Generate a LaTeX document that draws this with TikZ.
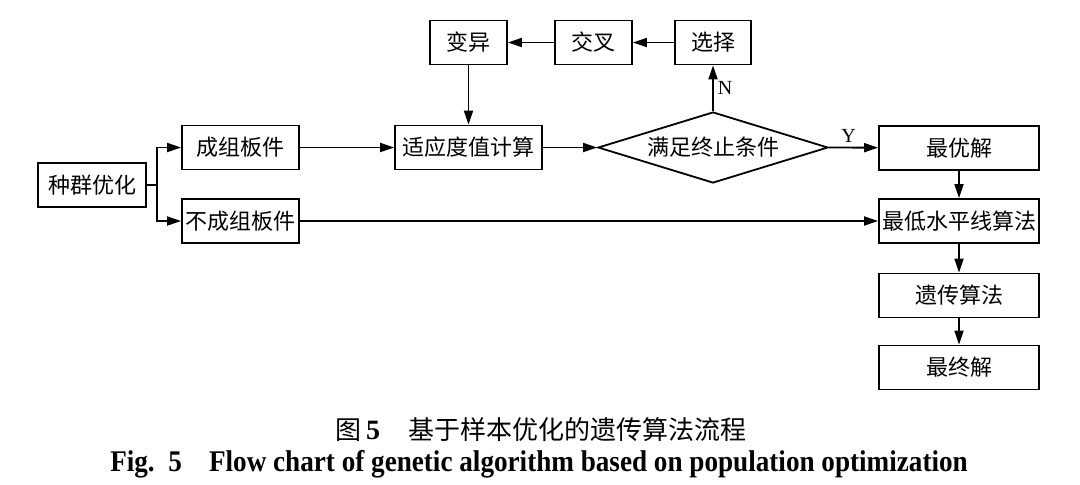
\documentclass[tikz,border=0pt]{standalone}
\usepackage{fontspec}
\setmainfont{Liberation Serif}
\newfontfamily\cjk{Noto Sans CJK SC}
\usetikzlibrary{arrows.meta}
\usetikzlibrary{shapes.geometric}
\tikzset{
    blk/.style={
        draw, line width=0.9pt, inner sep=0pt,
        minimum width=#1, minimum height=22pt,
        font=\cjk\fontsize{11}{13}\selectfont
    },
    blk/.default=80pt,
    cond/.style={
        draw, diamond, line width=0.9pt, inner sep=0pt, aspect=3.2,
        minimum width=115pt, minimum height=35.5pt,
        font=\cjk\fontsize{11}{13}\selectfont
    },
    arr/.style={line width=0.9pt, -{Triangle[length=7pt,width=4.5pt]}},
    lnk/.style={line width=0.9pt},
    yn/.style={font=\fontsize{10}{12}\selectfont, inner sep=2pt}
}

\begin{document}
\begin{tikzpicture}[x=0.5pt, y=-0.5pt]
		\useasboundingbox (0,0) rectangle (1080,484);

		% left part
		\node[blk=54pt] (pop) at (92,185) {种群优化};
		\node[blk=58.5pt] (grp) at (240.5,147.5) {成组板件};
		\node[blk=58.5pt] (ngrp) at (240.5,221) {不成组板件};
		\coordinate (fork) at (157,185);

		% loop
		\node[blk=73.5pt] (fit) at (468.5,147.5) {适应度值计算};
		\node[cond] (stop) at (713,147.5) {满足终止条件};
		\node[blk=38pt] (sel) at (713,42.5) {选择};
		\node[blk=38.5pt] (cross) at (593.5,42.5) {交叉};
		\node[blk=38.5pt] (mut) at (468.5,42.5) {变异};

		% right column
		\node[blk=80pt] (best) at (959,148) {最优解};
		\node[blk=80pt] (low) at (959,221) {最低水平线算法};
		\node[blk=80pt] (ga) at (959,295.5) {遗传算法};
		\node[blk=80pt] (final) at (959,367.5) {最终解};

		\draw[lnk] (pop.east) -- (fork);
		\draw[arr] (fork) |- (grp.west);
		\draw[arr] (fork) |- (ngrp.west);
		\draw[arr] (grp) -- (fit);
		\draw[arr] (fit) -- (stop);
		\draw[arr] (stop) -- node[yn, right] {N} (sel);
		\draw[arr] (sel) -- (cross);
		\draw[arr] (cross) -- (mut);
		\draw[arr] (mut) -- (fit);
		\draw[arr] (stop.east) -- node[yn, above, pos=0.4] {Y} (best);
		\draw[arr] (ngrp) -- (low);
		\draw[arr] (best) -- (low);
		\draw[arr] (low) -- (ga);
		\draw[arr] (ga) -- (final);

		% caption
		\node (capzh) at (541,430) {\fontsize{13}{15}\selectfont{\cjk 图}\,\textbf{\fontsize{14}{15}\selectfont 5}\hspace{14pt}{\cjk 基于样本优化的遗传算法流程}};
		\node (capen) at (539,464) {\scalebox{0.905}[1]{\fontsize{15}{17}\selectfont\bfseries Fig.~~5\quad Flow chart of genetic algorithm based on population optimization}};

	\end{tikzpicture}
\end{document}
